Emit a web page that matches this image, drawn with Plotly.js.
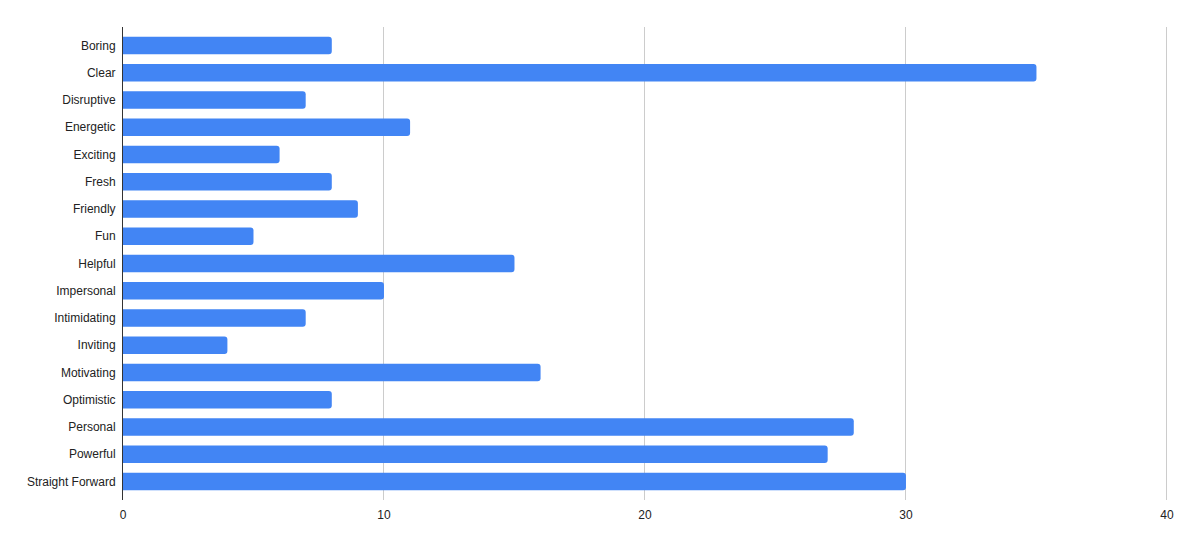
<!DOCTYPE html>
<html>
<head>
<meta charset="utf-8">
<script src="https://cdn.plot.ly/plotly-3.0.1.min.js"></script>
<style>html,body{margin:0;padding:0;background:#fff;}#chart{width:1195px;height:548px;}</style>
</head>
<body>
<div id="chart"></div>
<script>
const categories = ["Boring","Clear","Disruptive","Energetic","Exciting","Fresh","Friendly","Fun","Helpful","Impersonal","Intimidating","Inviting","Motivating","Optimistic","Personal","Powerful","Straight Forward"];
const counts = [8,35,7,11,6,8,9,5,15,10,7,4,16,8,28,27,30];
const xTicks = [0,10,20,30,40];

const trace = {
  type: "bar",
  orientation: "h",
  y: categories,
  x: counts,
  marker: {color: "#4285f4", cornerradius: 3},
  hoverinfo: "x+y"
};

const layout = {
  width: 1195, height: 548,
  margin: {l: 123, r: 27, t: 27, b: 48},
  paper_bgcolor: "#fff", plot_bgcolor: "#fff",
  bargap: 0.36,
  showlegend: false,
  font: {family: "Liberation Sans, Arial, sans-serif", size: 12, color: "#222"},
  xaxis: {
    range: [0, 40.04], tickvals: xTicks, ticktext: xTicks.map(String),
    showgrid: true, gridcolor: "#cccccc", gridwidth: 1,
    zeroline: false, showline: false, ticks: "",
    ticklabelstandoff: 6,
    fixedrange: true
  },
  yaxis: {
    type: "category",
    range: [16.68, -0.68],
    showgrid: false, zeroline: false,
    showline: true, linecolor: "#333", linewidth: 1,
    ticks: "", ticklabelstandoff: 4,
    fixedrange: true
  }
};

Plotly.newPlot("chart", [trace], layout, {displayModeBar: false, staticPlot: true});
</script>
</body>
</html>
